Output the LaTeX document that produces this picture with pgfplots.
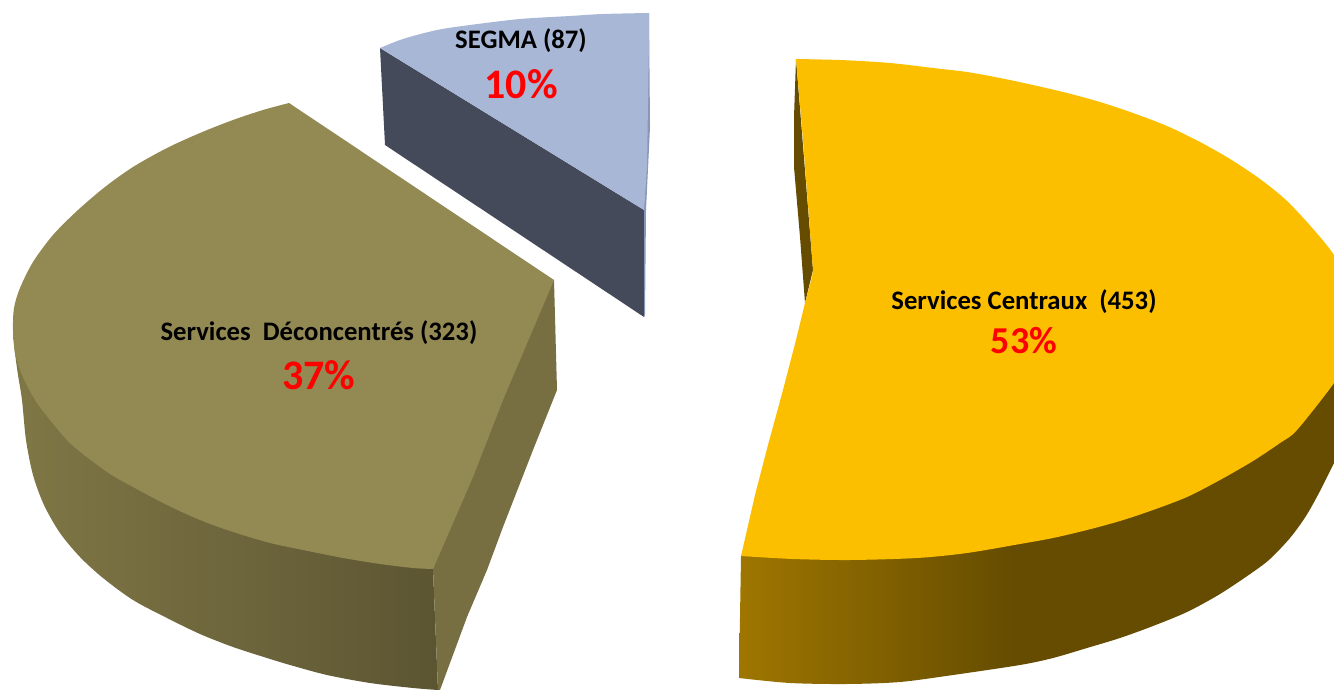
\documentclass[border=0pt]{standalone}
\usepackage{pgfplots}
\pgfplotsset{compat=1.18}
\usepackage{fontspec}
\setmainfont{Carlito}
\definecolor{yellowtop}{RGB}{252,191,0}
\definecolor{yellowdark}{RGB}{101,76,0}
\definecolor{yellowlight}{RGB}{158,118,0}
\definecolor{olivetop}{RGB}{147,137,83}
\definecolor{oliveside}{RGB}{119,111,66}
\definecolor{olivelight}{RGB}{128,119,70}
\definecolor{olivedark}{RGB}{92,85,50}
\definecolor{bluetop}{RGB}{168,183,214}
\definecolor{bluedark}{RGB}{68,74,89}
\definecolor{bluestrip}{RGB}{136,151,184}
% 25bp and 75bp are the edges of the filled path
\pgfdeclarehorizontalshading{yellowwall}{100bp}{color(0bp)=(yellowlight); color(25bp)=(yellowlight); color(48bp)=(yellowdark); color(100bp)=(yellowdark)}
\pgfdeclarehorizontalshading{olivewall}{100bp}{color(0bp)=(olivelight); color(25bp)=(olivelight); color(75bp)=(olivedark); color(100bp)=(olivedark)}
\newcommand{\lab}{\fontsize{26.7bp}{30bp}\selectfont\bfseries}
\newcommand{\pct}{\fontsize{42bp}{46bp}\selectfont\bfseries\color{red}}

\begin{document}
\begin{tikzpicture}
\begin{axis}[
    scale only axis,
    width=1334bp, height=690bp,
    xmin=0, xmax=1334, ymin=0, ymax=690,
    y dir=reverse,
    hide axis,
]

% === OLIVE SLICE (Services Deconcentres) ===
% front wall
\addplot[shading=olivewall, draw=none, smooth] coordinates {
    (13,330) (15,353) (18,375) (22,400) (26,440) (33,475) (44,505) (60,533)
    (80,557) (103,578) (133,600) (167,618) (200,634) (233,647) (267,658)
    (290,665) (327,675) (370,683) (413,688) (438,690)
} -- (axis cs:433,569) -- cycle;
% cut wall
\addplot[fill=oliveside, draw=none] coordinates {
    (554,280) (557,390) (553,400) (533,450) (503,527) (487,570) (467,617)
    (440,690) (438,690) (433,569) (470,440)
} -- cycle;
% top
\addplot[fill=olivetop, draw=none, smooth] coordinates {
    (289,103) (263,110) (233,120) (200,133) (167,148) (133,167) (105,187)
    (78,210) (53,235) (33,262) (20,288) (14,308) (13,330) (15,353) (22,375)
    (35,400) (50,420) (72,445) (107,472) (133,487) (167,505) (200,520)
    (233,532) (270,543) (303,550) (343,558) (380,564) (413,568) (433,569)
} -- (axis cs:447,537) -- (axis cs:473,477) -- (axis cs:503,400)
  -- (axis cs:554,280) -- cycle;

% === BLUE SLICE (SEGMA) ===
\addplot[fill=bluedark, draw=none] coordinates {
    (380,48) (644,210) (644,317) (385,145)
} -- cycle;
\addplot[fill=bluestrip, draw=none] coordinates {
    (649,13) (650,127) (646,210) (645,315) (644,317) (644,210)
} -- cycle;
\addplot[fill=bluetop, draw=none, smooth] coordinates {
    (380,48) (403,39) (437,30) (470,25) (520,19) (570,16) (603,14) (649,13)
} -- (axis cs:649,40) -- (axis cs:647,167) -- (axis cs:644,210) -- cycle;

% === YELLOW SLICE (Services Centraux) ===
% front wall
\addplot[shading=yellowwall, draw=none, smooth] coordinates {
    (739,678) (790,683) (847,684) (900,682) (953,675) (1020,665)
    (1053,658) (1087,648) (1120,638) (1153,626) (1187,612) (1220,594)
    (1253,572) (1270,559) (1290,538) (1306,516) (1320,491) (1334,463)
} -- (axis cs:1334,383) -- (axis cs:741,556) -- cycle;
% inner wall
\addplot[fill=yellowdark, draw=none] coordinates {
    (796,59) (794,117) (794,150) (794,167) (800,237) (805,303) (813,270)
} -- cycle;
% top: the rim runs past the right edge of the plot, where it is clipped
\addplot[fill=yellowtop, draw=none, smooth] coordinates {
    (796,59) (840,60) (877,62) (900,64) (933,68) (967,72) (1000,78) (1033,85)
    (1067,93) (1100,102) (1133,113) (1167,126) (1200,142) (1230,159)
    (1260,179) (1287,201) (1314,230) (1334,255) (1350,285) (1356,320)
    (1350,355) (1334,383) (1297,430) (1280,443) (1253,461) (1220,480)
    (1187,497) (1153,510) (1120,521) (1087,530) (1053,538) (1020,544)
    (967,553) (917,558) (850,560) (793,559) (741,556)
} -- (axis cs:747,530) -- (axis cs:755,495) -- (axis cs:768,445)
  -- (axis cs:783,390) -- (axis cs:796,340) -- (axis cs:805,303)
  -- (axis cs:812,277) -- (axis cs:813,270) -- (axis cs:803,140) -- cycle;

% === LABELS ===
\node[font=\lab] at (axis cs:521,41) {SEGMA (87)};
\node[font=\pct] at (axis cs:521,84) {10\%};
\node[font=\lab] at (axis cs:1024,301.5) {Services Centraux\ \ (453)};
\node[font=\fontsize{38bp}{42bp}\selectfont\bfseries\color{red}] at (axis cs:1024,341) {53\%};
\node[font=\lab] at (axis cs:319,333) {Services\ \ Déconcentrés (323)};
\node[font=\pct] at (axis cs:319,375) {37\%};
\end{axis}
% keep the whole plot box as the page
\path (current axis.south west) rectangle (current axis.north east);
\end{tikzpicture}
\end{document}
